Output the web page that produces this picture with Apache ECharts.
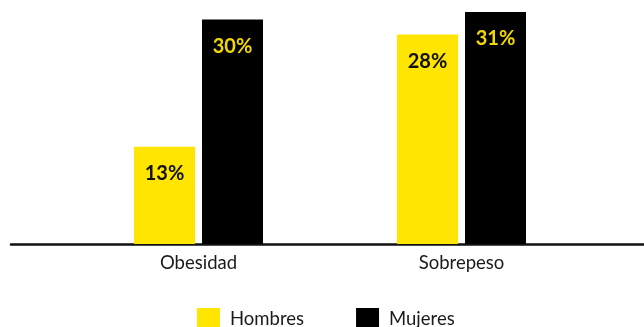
<!DOCTYPE html>
<html>
<head>
<meta charset="utf-8">
<script src="https://cdn.jsdelivr.net/npm/echarts@6/dist/echarts.min.js"></script>
<style>
  html, body { margin: 0; padding: 0; background: #fff; }
  #chart { width: 644px; height: 327px; }
</style>
</head>
<body>
<div id="chart"></div>
<script>
// Categories and percentages per group
const categories = ['Obesidad', 'Sobrepeso'];
const hombres = [13, 28];
const mujeres = [30, 31];
const seriesNames = ['Hombres', 'Mujeres'];

const YELLOW = '#FFE500';
const BLACK = '#000000';
const FONT = 'Lato';

const chart = echarts.init(document.getElementById('chart'), null, { renderer: 'canvas' });

const labelStyle = (color) => ({
  show: true,
  position: 'insideTop',
  distance: 17,
  formatter: '{c}%',
  fontFamily: FONT,
  fontWeight: 'bold',
  fontSize: 20,
  color: color
});

chart.setOption({
  animation: false,
  backgroundColor: '#ffffff',
  legend: {
    data: seriesNames,
    left: 192,
    top: 303,
    itemWidth: 23,
    itemHeight: 23,
    itemGap: 52,
    icon: 'rect',
    textStyle: {
      fontFamily: FONT,
      fontSize: 18.5,
      color: '#1a1a1a',
      padding: [0, 0, 0, 5]
    }
  },
  grid: [
    // plot area for the bars
    { left: 67, right: 51, top: 12, bottom: 83 },
    // full-width baseline
    { left: 11, right: 0, top: 12, bottom: 83 }
  ],
  xAxis: [
    {
      type: 'category',
      gridIndex: 0,
      data: categories,
      axisLine: { show: false },
      axisTick: { show: false },
      axisLabel: {
        margin: 10,
        fontFamily: FONT,
        fontSize: 18.5,
        color: '#1a1a1a'
      }
    },
    {
      type: 'value',
      gridIndex: 1,
      min: 0,
      max: 1,
      axisLine: { show: true, onZero: false, lineStyle: { color: '#111111', width: 2.5 } },
      axisTick: { show: false },
      axisLabel: { show: false },
      splitLine: { show: false }
    }
  ],
  yAxis: [
    { type: 'value', gridIndex: 0, min: 0, max: 31, show: false, splitLine: { show: false } },
    { type: 'value', gridIndex: 1, min: 0, max: 1, show: false, splitLine: { show: false } }
  ],
  series: [
    {
      name: seriesNames[0],
      type: 'bar',
      xAxisIndex: 0,
      yAxisIndex: 0,
      data: hombres,
      barWidth: 61,
      barGap: '11.5%',
      itemStyle: { color: YELLOW },
      label: labelStyle('#111111')
    },
    {
      name: seriesNames[1],
      type: 'bar',
      xAxisIndex: 0,
      yAxisIndex: 0,
      data: mujeres,
      barWidth: 61,
      barGap: '11.5%',
      itemStyle: { color: BLACK },
      label: labelStyle('#F2D700')
    }
  ]
});
</script>
</body>
</html>
